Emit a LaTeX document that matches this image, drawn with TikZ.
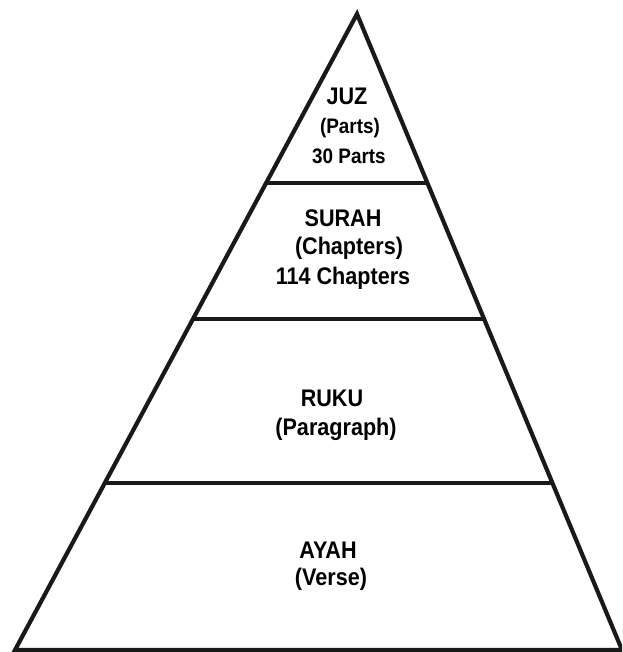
\documentclass[tikz,border=0pt]{standalone}
\usepackage{fontspec}
\setmainfont{Liberation Sans}
\usetikzlibrary{calc}
\newcommand\condtxt[1]{\scalebox{0.9}[1]{#1}}
\tikzset{
  edge/.style={line width=4.2pt, line join=miter, black!90},
  layer/.style={line width=3.8pt, black!90},
  lbl/.style={font=\bfseries\fontsize{24}{28}\selectfont, inner sep=0pt, anchor=center},
  sublbl/.style={font=\bfseries\fontsize{21}{25}\selectfont, inner sep=0pt, anchor=center}
}
\begin{document}
\begin{tikzpicture}[x=1pt,y=-1pt]
\useasboundingbox (0,0) rectangle (622,652);
\clip (0,0) rectangle (622,652);
\coordinate (A) at (357,14);
\coordinate (L) at (15,650);
\coordinate (R) at (622,650);
\draw[edge] (A) -- (L) -- (R) -- cycle;
\coordinate (l1) at ($(A)!0.2657!(L)$);
\coordinate (r1) at ($(A)!0.2657!(R)$);
\coordinate (l2) at ($(A)!0.4796!(L)$);
\coordinate (r2) at ($(A)!0.4796!(R)$);
\coordinate (l3) at ($(A)!0.7374!(L)$);
\coordinate (r3) at ($(A)!0.7374!(R)$);
\draw[layer] (l1) -- (r1);
\draw[layer] (l2) -- (r2);
\draw[layer] (l3) -- (r3);
\node[lbl] (juz) at (347,96) {\condtxt{JUZ}};
\node[sublbl] (parts) at (350,128) {\condtxt{(Parts)}};
\node[sublbl] (thirty) at (349,156) {\condtxt{30 Parts}};
\node[lbl] (surah) at (343,218) {\condtxt{SURAH}};
\node[lbl] (chap) at (349,248) {\condtxt{(Chapters)}};
\node[lbl] (n114) at (343,278) {\condtxt{114 Chapters}};
\node[lbl] (ruku) at (332,398) {\condtxt{RUKU}};
\node[lbl] (para) at (336,429) {\condtxt{(Paragraph)}};
\node[lbl] (ayah) at (328,550) {\condtxt{AYAH}};
\node[lbl] (verse) at (331,579) {\condtxt{(Verse)}};
\end{tikzpicture}
\end{document}
